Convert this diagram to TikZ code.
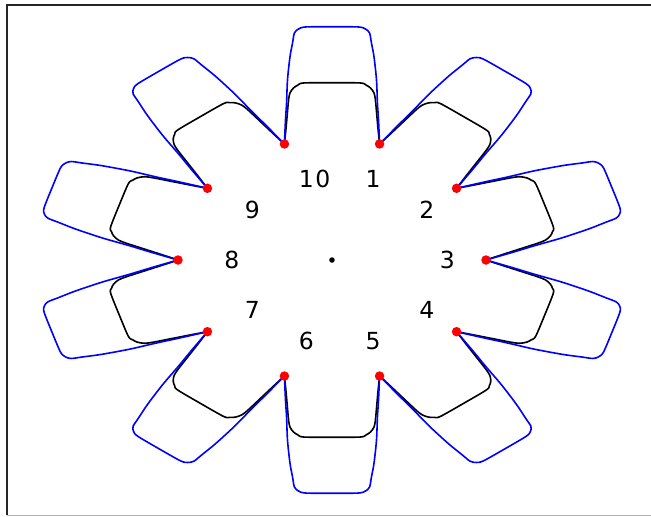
\documentclass[tikz,border=0pt]{standalone}
\usepackage{fontspec}
\setmainfont{DejaVu Sans}
\begin{document}
\begin{tikzpicture}[x=1pt,y=1pt,
  blackline/.style={draw=black,line width=1.6pt,line join=round,line cap=round},
  blueline/.style={draw=blue,line width=1.6pt,line join=round,line cap=round},
  reddot/.style={circle,fill=red,inner sep=0pt,minimum size=9.5pt},
  numlabel/.style={anchor=west,inner sep=0pt,font=\fontsize{23.5}{28}\selectfont}]
\useasboundingbox (-332,-257) rectangle (319,260);
% frame
\draw[black!85,line width=1.6pt] (-325,-255) -- (-325,255) -- (319,255);
\draw[black!30,line width=1.2pt] (-325,-255.5) -- (319,-255.5);
% teeth
\foreach \k in {0,...,9}{
  \pgfmathsetmacro\ph{18+36*\k}
  \pgfmathsetmacro\ca{-154*sin(\ph)}
  \pgfmathsetmacro\cb{122*cos(\ph)}
  \pgfmathsetmacro\cc{154*cos(\ph)}
  \pgfmathsetmacro\cd{122*sin(\ph)}
  \begin{scope}[cm={\ca,\cb,\cc,\cd,(0,0)}]
    \draw[blackline] plot[smooth,tension=0.5] coordinates {
      (0.309,0.951) (0.300,1.06) (0.292,1.172) (0.282,1.311) (0.273,1.369)
      (0.25,1.41) (0.221,1.434) (0.185,1.451) (0,1.453)
      (-0.185,1.451) (-0.221,1.434) (-0.25,1.41) (-0.273,1.369) (-0.282,1.311)
      (-0.292,1.172) (-0.300,1.06) (-0.309,0.951)};
    \draw[blueline] plot[smooth,tension=0.5] coordinates {
      (0.309,0.951) (0.302,1.148) (0.295,1.287) (0.289,1.475) (0.273,1.664)
      (0.255,1.787) (0.244,1.861) (0.218,1.893) (0.172,1.910) (0,1.912)
      (-0.172,1.910) (-0.218,1.893) (-0.244,1.861) (-0.255,1.787) (-0.273,1.664)
      (-0.289,1.475) (-0.295,1.287) (-0.302,1.148) (-0.309,0.951)};
  \end{scope}
}
% red points
\foreach \k/\n in {0/3,1/2,2/1,3/10,4/9,5/8,6/7,7/6,8/5,9/4}{
  \pgfmathsetmacro\t{36*\k}
  \node[reddot] (p\n) at ({154*cos(\t)},{122*sin(\t)}) {};
  \node[numlabel] (l\n) at ({0.7*154*cos(\t)},{0.7*122*sin(\t)}) {\ifnum\n=10 1\kern1.5pt0\else\n\fi};
}
% centre
\node[circle,fill=black,inner sep=0pt,minimum size=5.5pt] (c) at (0,0) {};
\end{tikzpicture}
\end{document}
